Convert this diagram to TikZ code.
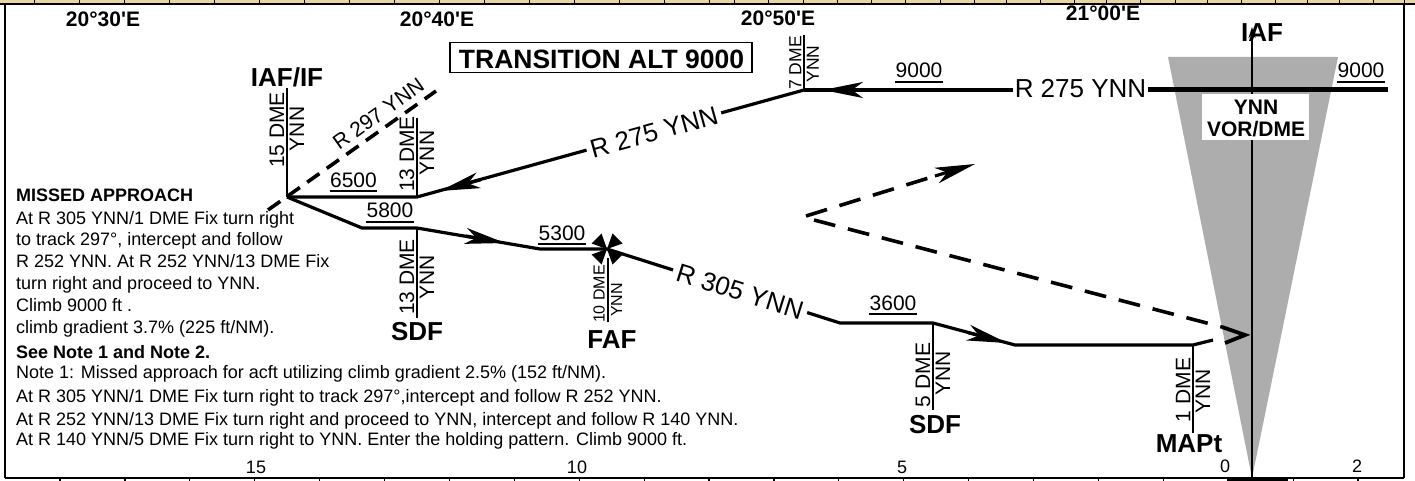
\documentclass[tikz,border=0pt]{standalone}
\usepackage{fontspec}
\newfontfamily\af{Liberation Sans}
\usetikzlibrary{arrows.meta,calc}
\newcommand\fsz[1]{\fontsize{#1}{#1}\selectfont\af}
\definecolor{wedge}{RGB}{173,173,173}
\definecolor{tanstrip}{RGB}{228,214,168}
\begin{document}
\begin{tikzpicture}[x=1pt,y=-1pt,
  route/.style={line width=3.2pt,line join=round},
  fixline/.style={line width=2.6pt},
  dashr/.style={line width=3.6pt,dash pattern=on 22pt off 13pt},
  arr/.style={-{Stealth[length=40pt,width=16pt,inset=11pt]}},
  rlab/.style={font=\fsz{26},inner sep=0pt},
  blab/.style={font=\fsz{26}\bfseries,inner sep=0pt,anchor=base},
  lon/.style={font=\fsz{21}\bfseries,inner sep=0pt,anchor=base},
  alt/.style={font=\fsz{21},inner sep=0pt,anchor=base},
  uline/.style={line width=2.4pt},
  dmeL/.style={font=\fsz{#1},rotate=90,inner sep=0pt,anchor=south},
  dmeR/.style={font=\fsz{#1},rotate=90,inner sep=0pt,anchor=north},
  body/.style={font=\fsz{18},inner sep=0pt,anchor=base west},
  bodyb/.style={font=\fsz{18}\bfseries,inner sep=0pt,anchor=base west},
  scl/.style={font=\fsz{18},inner sep=0pt,anchor=base}]
\useasboundingbox (0,0) rectangle (1415,481);
\fill[white] (0,0) rectangle (1415,481);
% top strip
\fill[tanstrip] (0,0) rectangle (1415,4);
\draw[line width=1.2pt] (0,4) -- (1415,4);
\foreach \t in {34,79,124,169,214,259,304,349,394,439,484,529,574,619,664,709,734,768,803,837,871,905,940,974,1006,1040,1074,1106,1140,1175,1207,1241,1275,1307,1339,1373,1404}
  {\draw[line width=1pt] (\t,0) -- (\t,4);}
% borders
\draw[line width=1.5pt] (5,4) -- (5,478);
\draw[line width=1.5pt] (1404,4) -- (1404,478);
\draw[line width=1.3pt] (5,478) -- (1404,478);
\foreach \k in {0,...,20} {\draw[line width=1.2pt] ({60+64.9*\k},478) -- ({60+64.9*\k},481);}
\fill (1227,476.5) rectangle (1288,481);
% longitudes
\node[lon] (lon1) at (103,27) {20°30'E};
\node[lon] (lon2) at (437,27) {20°40'E};
\node[lon] (lon3) at (778,26) {20°50'E};
\node[lon] (lon4) at (1103,21) {21°00'E};
% transition box
\node[draw,line width=1.3pt,minimum width=302pt,minimum height=30pt,inner sep=0pt] (tbox) at (601,57.7) {};
\node[font=\fsz{26.5}\bfseries,inner sep=0pt,anchor=base] (ttext) at (601.5,68.3) {TRANSITION ALT 9000};
% VOR wedge
\fill[wedge] (1168,57) -- (1338,57) -- (1252,478) -- cycle;
\coordinate (vbot) at (1252,478);
\coordinate (vtop) at (1252,27);
\draw[line width=1.8pt,-{Stealth[length=11pt,width=7pt]}] (vbot) -- (vtop);
\node[blab] (iaf) at (1262,42) {IAF};
% top route
\coordinate (tr0) at (1388,90);
\coordinate (tr1) at (1148,90);
\coordinate (tr2) at (1013,90);
\coordinate (f7) at (804,90);
\draw[line width=5pt] (tr0) -- (tr1);
\node[rlab,anchor=base] (r275a) at (1080.5,98) {R 275 YNN};
\draw[route] (tr2) -- (f7);
\coordinate (ta1) at (865,90);
\coordinate (ta2) at (823,90);
\draw[route,arr] (ta1) -- (ta2);
\node[fill=white,minimum width=107pt,minimum height=46pt,inner sep=0pt] (vorbox) at (1255.5,117) {};
\node[font=\fsz{21}\bfseries,inner sep=0pt,anchor=base] (vor1) at (1256,115) {YNN};
\node[font=\fsz{21}\bfseries,inner sep=0pt,anchor=base] (vor2) at (1256,137) {VOR/DME};
% diagonal R 275 and 6500
\coordinate (f13a) at (417,197);
\coordinate (iafif) at (287,197);
\draw[route] (f7) -- (f13a) -- (iafif);
\node[rlab,fill=white,inner xsep=4pt,inner ysep=2pt,rotate=15.5] (r275b) at (654,132) {R 275 YNN};
\coordinate (tb1) at (480.5,179.8);
\coordinate (tb2) at (440,191);
\draw[route,arr] (tb1) -- (tb2);
% R 297 dashed
\coordinate (d0) at (268,210);
\coordinate (d1) at (436,91);
\draw[line width=3.6pt,dash pattern=on 15pt off 9pt] (d0) -- (d1);
\path (iafif) -- (d1) node[pos=0.67,sloped,above=7pt,font=\fsz{21},inner sep=0pt] (r297) {R 297 YNN};
% lower route
\coordinate (b1) at (362,228);
\coordinate (f13b) at (417,228);
\coordinate (b2) at (540,249);
\coordinate (faf) at (607,249);
\coordinate (b3) at (840,323);
\coordinate (f5) at (933,323);
\coordinate (b4) at (1015,345);
\coordinate (f1) at (1193,345);
\coordinate (b5) at (1213,340);
\draw[route] (iafif) -- (b1) -- (f13b) -- (b2) -- (faf) -- (b3) -- (f5) -- (b4) -- (f1) -- (b5);
\node[rlab,fill=white,inner xsep=4.5pt,inner ysep=2pt,rotate=-17.4] (r305) at (740,291.5) {R 305 YNN};
\coordinate (tc1) at (466,236);
\coordinate (tc2) at (505,243);
\draw[route,arr] (tc1) -- (tc2);
\coordinate (td1) at (968,332.6);
\coordinate (td2) at (1007,343);
\draw[route,arr] (td1) -- (td2);
% FAF cross
\fill (faf) -- +(15.5,-5.5) -- +(5.5,-15.5) -- cycle;
\fill (faf) -- +(-5.5,-15.5) -- +(-15.5,-5.5) -- cycle;
\fill (faf) -- +(-5.5,15.5) -- +(-15.5,5.5) -- cycle;
\fill (faf) -- +(15.5,5.5) -- +(5.5,15.5) -- cycle;
% missed approach dashed
\coordinate (mv) at (806,216);
\coordinate (mu) at (935,176);
\coordinate (mutip) at (975,164);
\coordinate (mv2) at (814,220);
\coordinate (ml) at (1222,327);
\coordinate (mch) at (1245,335);
\coordinate (mcl) at (1225,343);
\draw[dashr] (mv) -- (mu);
\draw[route,arr] (mu) -- (mutip);
\draw[dashr] (mv2) -- (ml);
\draw[line width=3.8pt,line join=miter] (ml) -- (mch) -- (mcl);
% fixes
\draw[fixline] (287,88) -- (iafif);
\node[dmeL=21] (fx1a) at (284.5,130) {15 DME};
\node[dmeR=21] (fx1b) at (289.5,129) {YNN};
\draw[fixline] (417,118) -- (f13a);
\node[dmeL=21] (fx2a) at (414.5,154) {13 DME};
\node[dmeR=21] (fx2b) at (419.5,153) {YNN};
\draw[fixline] (804,35) -- (f7);
\node[dmeL=17.5] (fx3a) at (801.5,63) {7 DME};
\node[dmeR=17.5] (fx3b) at (806.5,64) {YNN};
\draw[fixline] (f13b) -- (417,318);
\node[dmeL=21] (fx4a) at (414.5,277) {13 DME};
\node[dmeR=21] (fx4b) at (419.5,277) {YNN};
\draw[fixline] (608,258) -- (608,322);
\node[dmeL=16] (fx5a) at (605,294) {10 DME};
\node[dmeR=16] (fx5b) at (611,300) {YNN};
\draw[fixline] (f5) -- (933,410);
\node[dmeL=21] (fx6a) at (930.5,375) {5 DME};
\node[dmeR=21] (fx6b) at (935.5,373) {YNN};
\draw[fixline] (f1) -- (1193,433);
\node[dmeL=21] (fx7a) at (1190.5,390) {1 DME};
\node[dmeR=21] (fx7b) at (1195.5,391) {YNN};
% fix names
\node[blab] (liaf) at (287,87) {IAF/IF};
\node[blab] (lsdf1) at (417,340) {SDF};
\node[blab] (lfaf) at (612,348) {FAF};
\node[blab] (lsdf2) at (935,433) {SDF};
\node[blab] (lmap) at (1189,452) {MAPt};
% altitudes
\node[alt] (a1) at (919,78) {9000};
\node[alt] (a2) at (1361,78) {9000};
\node[alt] (a3) at (353.5,187) {6500};
\node[alt] (a4) at (390,218) {5800};
\node[alt] (a5) at (562,240) {5300};
\node[alt] (a6) at (893,310) {3600};
\foreach \n in {a1,a2,a3,a4,a5,a6}
  {\draw[uline] ($(\n.base west)+(0,4)$) -- ($(\n.base east)+(0,4)$);}
% text block
\node[bodyb] (m1) at (16,201.5) {MISSED APPROACH};
\node[body] (m2) at (16,224) {At R 305 YNN/1 DME Fix turn right};
\node[body] (m3) at (16,245) {to track 297°, intercept and follow};
\node[body] (m4) at (16,267) {R 252 YNN. At R 252 YNN/13 DME Fix};
\node[body] (m5) at (16,289) {turn right and proceed to YNN.};
\node[body] (m6) at (16,311) {Climb 9000 ft .};
\node[body] (m7) at (16,333) {climb gradient 3.7\% (225 ft/NM).};
\node[bodyb] (m8) at (16,358) {See Note 1 and Note 2.};
\node[body] (m9) at (16,378) {Note 1: Missed approach for acft utilizing climb gradient 2.5\% (152 ft/NM).};
\node[body] (m10) at (16,402) {At R 305 YNN/1 DME Fix turn right to track 297°,intercept and follow R 252 YNN.};
\node[body] (m11) at (16,425) {At R 252 YNN/13 DME Fix turn right and proceed to YNN, intercept and follow R 140 YNN.};
\node[body] (m12) at (16,445) {At R 140 YNN/5 DME Fix turn right to YNN. Enter the holding pattern. Climb 9000 ft.};
% scale labels
\node[scl] (s15) at (256,473) {15};
\node[scl] (s10) at (577,473) {10};
\node[scl] (s5) at (902,473) {5};
\node[scl] (s0) at (1225,472) {0};
\node[scl] (s2) at (1357,472) {2};
\end{tikzpicture}
\end{document}
